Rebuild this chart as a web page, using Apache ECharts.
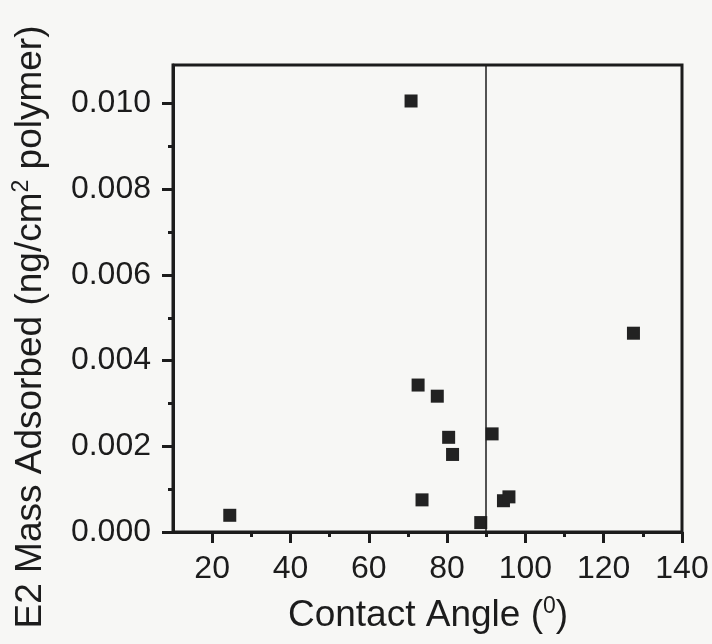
<!DOCTYPE html>
<html>
<head>
<meta charset="utf-8">
<script src="https://cdn.jsdelivr.net/npm/echarts@6/dist/echarts.min.js"></script>
<style>
html, body { margin: 0; padding: 0; background: #f7f7f5; }
#chart { width: 712px; height: 644px; }
</style>
</head>
<body>
<div id="chart"></div>
<script>
// contact angle (deg) vs adsorbed E2 mass
var angles = [70.8, 72.6, 77.5, 80.4, 81.4, 73.6, 24.5, 88.6, 91.5, 94.4, 95.8, 127.6];
var mass = [0.01006, 0.00343, 0.00317, 0.00221, 0.00181, 0.00075, 0.00039, 0.00022, 0.00229, 0.00073, 0.00082, 0.00464];
var xTicks = [20, 40, 60, 80, 100, 120, 140];
var xMinor = [30, 50, 70, 90, 110, 130];
var yTicks = [0, 0.002, 0.004, 0.006, 0.008, 0.010];
var yMinor = [0.001, 0.003, 0.005, 0.007, 0.009];
var cutoff = 90;

var ink = '#1c1c1c';
var points = angles.map(function (a, i) { return [a, mass[i]]; });

var titleRich = {
    a: { fontSize: 37, lineHeight: 42, fontFamily: 'Liberation Sans', fill: ink },
    s: { fontSize: 23, lineHeight: 22, verticalAlign: 'top', fontFamily: 'Liberation Sans', fill: ink }
};

var chart = echarts.init(document.getElementById('chart'));
chart.setOption({
    backgroundColor: '#f7f7f5',
    animation: false,
    grid: {
        left: 173, top: 65, right: 30, bottom: 112,
        show: true, borderColor: ink, borderWidth: 3
    },
    xAxis: [{
        type: 'value', min: 10, max: 140, interval: 10,
        axisLine: { lineStyle: { color: ink, width: 3 } },
        axisTick: { customValues: xTicks, length: 11, lineStyle: { color: ink, width: 3 } },
        axisLabel: {
            customValues: xTicks, margin: 21,
            color: ink, fontSize: 32, fontFamily: 'Liberation Sans'
        },
        splitLine: { show: false }
    }, {
        type: 'value', min: 10, max: 140, position: 'bottom',
        axisLine: { show: false },
        axisTick: { customValues: xMinor, length: 5, lineStyle: { color: ink, width: 3 } },
        axisLabel: { show: false, customValues: xMinor },
        splitLine: { show: false }
    }],
    yAxis: [{
        type: 'value', min: 0, max: 0.0109, interval: 0.002,
        axisLine: { lineStyle: { color: ink, width: 3 } },
        axisTick: { customValues: yTicks, length: 11, lineStyle: { color: ink, width: 3 } },
        axisLabel: {
            customValues: yTicks, margin: 22,
            color: ink, fontSize: 32, fontFamily: 'Liberation Sans',
            formatter: function (v) { return v.toFixed(3); }
        },
        splitLine: { show: false }
    }, {
        type: 'value', min: 0, max: 0.0109, position: 'left',
        axisLine: { show: false },
        axisTick: { customValues: yMinor, length: 5, lineStyle: { color: ink, width: 3 } },
        axisLabel: { show: false, customValues: yMinor },
        splitLine: { show: false }
    }],
    graphic: [{
        type: 'text', x: 428, y: 616,
        style: {
            text: '{a|Contact Angle (}{s|0}{a|)}',
            align: 'center', verticalAlign: 'middle',
            rich: titleRich
        }
    }, {
        type: 'text', x: 31, y: 327, rotation: Math.PI / 2,
        style: {
            text: '{a|E2 Mass Adsorbed (ng/cm}{s|2}{a| polymer)}',
            align: 'center', verticalAlign: 'middle',
            rich: titleRich
        }
    }],
    series: [{
        type: 'scatter',
        data: points,
        symbol: 'rect',
        symbolSize: 13,
        itemStyle: { color: '#222', opacity: 1 },
        markLine: {
            silent: true,
            symbol: 'none',
            label: { show: false },
            lineStyle: { color: ink, width: 1.5, type: 'solid' },
            data: [{ xAxis: cutoff }]
        }
    }]
});
</script>
</body>
</html>
